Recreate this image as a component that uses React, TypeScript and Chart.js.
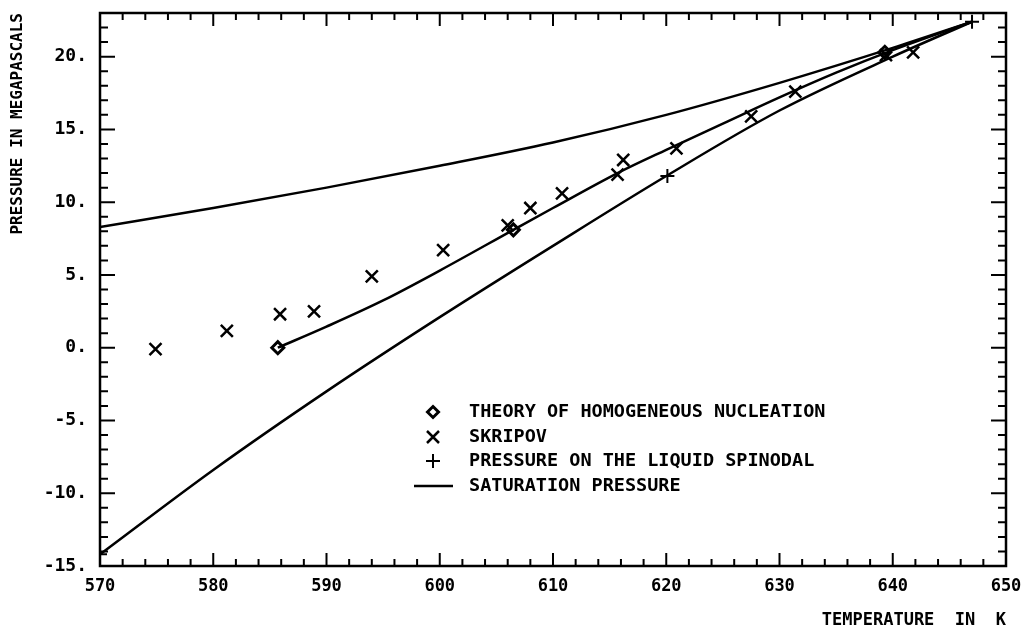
import React, { useEffect, useRef } from 'react';
import { Chart, registerables } from 'chart.js';
Chart.register(...registerables);

// Saturation pressure curve (MPa vs K)
const satTemp = [570, 580, 590, 600, 610, 620, 630, 640, 647];
const satPres = [8.3, 9.6, 11.0, 12.5, 14.1, 16.0, 18.2, 20.6, 22.4];

// Liquid spinodal curve
const spinTemp = [570, 580, 590, 600, 610, 620, 630, 640, 647];
const spinPres = [-14.2, -8.4, -3.0, 2.1, 7.0, 11.8, 16.3, 20.0, 22.4];
// Spinodal markers (+)
const spinMarkTemp = [570, 620.1, 647];
const spinMarkPres = [-14.2, 11.8, 22.4];

// Theory of homogeneous nucleation curve
const theoryTemp = [585.7, 590, 595, 600, 606.5, 610, 615.7, 620, 625, 630, 635, 640, 647];
const theoryPres = [0, 1.45, 3.25, 5.3, 8.1, 9.6, 12.0, 13.6, 15.4, 17.2, 18.9, 20.45, 22.4];
// Theory markers (diamonds)
const theoryMarkTemp = [585.7, 606.5, 639.3];
const theoryMarkPres = [0, 8.1, 20.3];

// Skripov experimental points (x)
const skripovTemp = [574.9, 581.2, 585.9, 588.9, 594.0, 600.3, 606.0, 608.0, 610.8, 615.7, 616.2, 620.9, 627.5, 631.4, 639.4, 641.8];
const skripovPres = [-0.1, 1.15, 2.3, 2.5, 4.9, 6.7, 8.4, 9.6, 10.6, 11.9, 12.9, 13.7, 15.9, 17.6, 20.1, 20.3];

// Axis ticks
const xTicks = [570, 580, 590, 600, 610, 620, 630, 640, 650];
const yTicks = [-15, -10, -5, 0, 5, 10, 15, 20];
const xMin = 570, xMax = 650, xMinorStep = 2;
const yMin = -15, yMax = 23, yMinorStep = 1;

const legendLabels = [
  'THEORY OF HOMOGENEOUS NUCLEATION',
  'SKRIPOV',
  'PRESSURE ON THE LIQUID SPINODAL',
  'SATURATION PRESSURE',
];

const FONT = "'DejaVu Sans Mono', monospace";

const zip = (xs: number[], ys: number[]) => xs.map((x, i) => ({ x, y: ys[i] }));

const frameTicksPlugin = {
  id: 'frameTicks',
  afterDatasetsDraw(chart: any) {
    const { ctx, chartArea: a, scales } = chart;
    const xs = scales.x, ys = scales.y;
    ctx.save();
    ctx.strokeStyle = '#000';
    ctx.lineWidth = 2.5;
    ctx.strokeRect(a.left, a.top, a.right - a.left, a.bottom - a.top);
    ctx.lineWidth = 2;
    ctx.beginPath();
    for (let t = xMin + xMinorStep; t < xMax; t += xMinorStep) {
      const px = xs.getPixelForValue(t);
      const len = t % 10 === 0 ? 13 : 7;
      ctx.moveTo(px, a.bottom);
      ctx.lineTo(px, a.bottom - len);
      ctx.moveTo(px, a.top);
      ctx.lineTo(px, a.top + len);
    }
    for (let p = yMin + yMinorStep; p < yMax; p += yMinorStep) {
      const py = ys.getPixelForValue(p);
      const len = p % 5 === 0 ? 15 : 8;
      ctx.moveTo(a.left, py);
      ctx.lineTo(a.left + len, py);
      ctx.moveTo(a.right, py);
      ctx.lineTo(a.right - len, py);
    }
    ctx.stroke();
    ctx.restore();
  },
};

const legendPlugin = {
  id: 'customLegend',
  afterDraw(chart: any) {
    const { ctx } = chart;
    const symX = 433;
    const textX = 469;
    const rows = [412, 437, 461, 486];
    ctx.save();
    ctx.strokeStyle = '#000';
    // diamond
    let y = rows[0];
    ctx.lineWidth = 3;
    ctx.beginPath();
    ctx.moveTo(symX, y - 5.5);
    ctx.lineTo(symX + 5.5, y);
    ctx.lineTo(symX, y + 5.5);
    ctx.lineTo(symX - 5.5, y);
    ctx.closePath();
    ctx.fillStyle = '#fff';
    ctx.fill();
    ctx.stroke();
    // cross rot
    y = rows[1];
    ctx.lineWidth = 2.5;
    ctx.beginPath();
    ctx.moveTo(symX - 6, y - 6);
    ctx.lineTo(symX + 6, y + 6);
    ctx.moveTo(symX + 6, y - 6);
    ctx.lineTo(symX - 6, y + 6);
    ctx.stroke();
    // plus
    y = rows[2];
    ctx.lineWidth = 2;
    ctx.beginPath();
    ctx.moveTo(symX - 7, y);
    ctx.lineTo(symX + 7, y);
    ctx.moveTo(symX, y - 7);
    ctx.lineTo(symX, y + 7);
    ctx.stroke();
    // line
    y = rows[3];
    ctx.lineWidth = 2.5;
    ctx.beginPath();
    ctx.moveTo(414, y);
    ctx.lineTo(453, y);
    ctx.stroke();
    // texts
    ctx.fillStyle = '#000';
    ctx.font = `bold 18.5px ${FONT}`;
    ctx.textBaseline = 'middle';
    ctx.textAlign = 'left';
    legendLabels.forEach((t, i) => ctx.fillText(t, textX, rows[i]));
    ctx.restore();
  },
};

export default function App() {
  const ref = useRef<HTMLCanvasElement>(null);
  useEffect(() => {
    const lineBase = {
      showLine: true,
      pointRadius: 0,
      borderColor: '#000',
      borderWidth: 2.5,
      fill: false,
      cubicInterpolationMode: 'monotone' as const,
    };
    const chart = new Chart(ref.current!, {
      type: 'scatter',
      data: {
        datasets: [
          { ...lineBase, label: 'Saturation pressure', data: zip(satTemp, satPres) },
          { ...lineBase, label: 'Spinodal', data: zip(spinTemp, spinPres) },
          { ...lineBase, label: 'Theory', data: zip(theoryTemp, theoryPres) },
          {
            label: 'Spinodal points',
            data: zip(spinMarkTemp, spinMarkPres),
            pointStyle: 'cross',
            pointRadius: 7,
            borderColor: '#000',
            borderWidth: 2,
          },
          {
            label: 'Skripov',
            data: zip(skripovTemp, skripovPres),
            pointStyle: 'crossRot',
            pointRadius: 8.5,
            borderColor: '#000',
            borderWidth: 2.5,
          },
          {
            label: 'Theory points',
            data: zip(theoryMarkTemp, theoryMarkPres),
            pointStyle: 'rectRot',
            pointRadius: 6,
            borderColor: '#000',
            backgroundColor: '#fff',
            borderWidth: 3,
          },
        ],
      },
      options: {
        animation: false,
        responsive: true,
        maintainAspectRatio: false,
        layout: { padding: { top: 13, right: 24, left: 0, bottom: 0 } },
        plugins: { legend: { display: false }, tooltip: { enabled: false } },
        scales: {
          x: {
            type: 'linear',
            min: xMin,
            max: xMax,
            grid: { display: false },
            border: { display: false },
            afterBuildTicks: (s: any) => { s.ticks = xTicks.map((v) => ({ value: v })); },
            afterFit: (s: any) => { s.height = 69; s.paddingLeft = 0; s.paddingRight = 0; },
            ticks: {
              color: '#000',
              font: { family: FONT, size: 17, weight: 'bold' },
              padding: 2,
              maxRotation: 0,
              autoSkip: false,
              callback: (v: any) => String(v),
            },
            title: {
              display: true,
              text: 'TEMPERATURE  IN  K',
              align: 'end',
              color: '#000',
              font: { family: FONT, size: 17, weight: 'bold' },
              padding: { top: 0, bottom: 4 },
            },
          },
          y: {
            type: 'linear',
            min: yMin,
            max: yMax,
            grid: { display: false },
            border: { display: false },
            afterBuildTicks: (s: any) => { s.ticks = yTicks.map((v) => ({ value: v })); },
            afterFit: (s: any) => { s.width = 100; s.paddingTop = 0; s.paddingBottom = 0; },
            ticks: {
              color: '#000',
              font: { family: FONT, size: 18, weight: 'bold' },
              padding: 5,
              autoSkip: false,
              callback: (v: any) => `${v}.`,
            },
            title: {
              display: true,
              text: 'PRESSURE IN MEGAPASCALS',
              align: 'end',
              color: '#000',
              font: { family: FONT, size: 16, weight: 'bold' },
              padding: { top: 8, bottom: 0 },
            },
          },
        },
      },
      plugins: [frameTicksPlugin, legendPlugin],
    });
    return () => chart.destroy();
  }, []);
  return (
    <div style={{ position: 'fixed', left: 0, top: 0, width: 1030, height: 635, background: '#fff' }}>
      <canvas ref={ref} />
    </div>
  );
}
